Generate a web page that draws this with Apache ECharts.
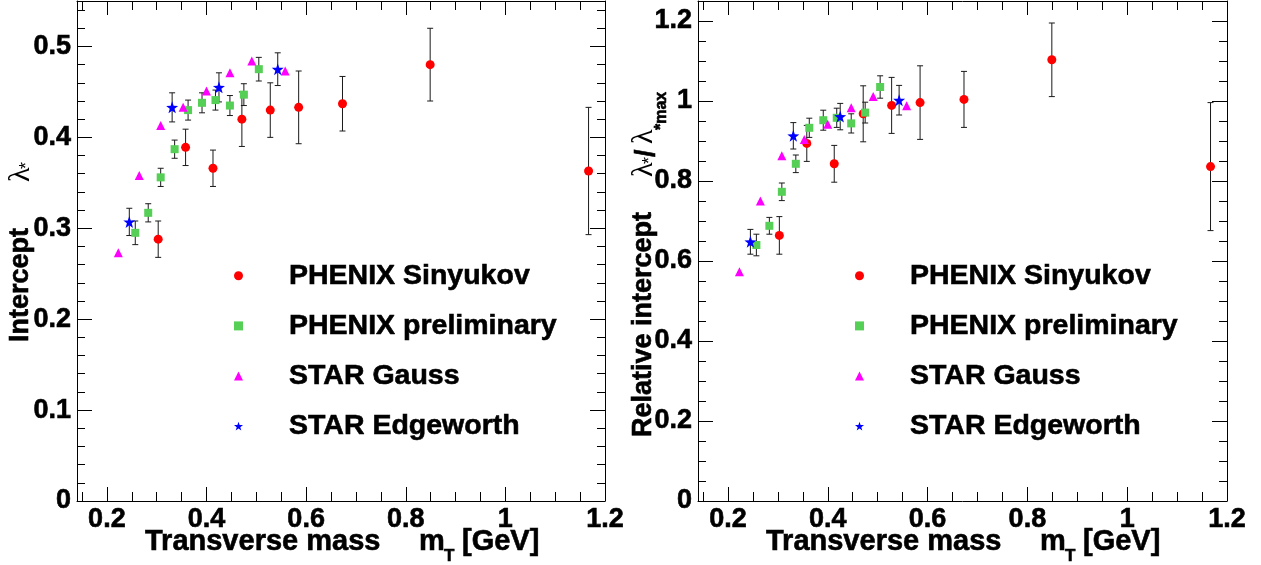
<!DOCTYPE html>
<html>
<head>
<meta charset="utf-8">
<script src="https://cdn.jsdelivr.net/npm/echarts@6/dist/echarts.min.js"></script>
<style>
html,body{margin:0;padding:0;background:#fff;}
#chart{width:1261px;height:565px;}
</style>
</head>
<body>
<div id="chart"></div>
<script>
// ---------- data ----------
const seriesNames = ['PHENIX Sinyukov', 'PHENIX preliminary', 'STAR Gauss', 'STAR Edgeworth'];

// transverse mass m_T [GeV]
const sinyukovX = [0.303, 0.358, 0.413, 0.471, 0.528, 0.585, 0.673, 0.849, 1.167];
const prelimX   = [0.257, 0.283, 0.308, 0.336, 0.363, 0.391, 0.418, 0.447, 0.475, 0.505];
const gaussX    = [0.223, 0.265, 0.308, 0.353, 0.400, 0.447, 0.491, 0.558];
const edgeX     = [0.245, 0.331, 0.425, 0.543];

// left panel: intercept lambda*
const sinyukovY   = [0.288, 0.389, 0.366, 0.420, 0.430, 0.433, 0.437, 0.480, 0.363];
const sinyukovErr = [0.020, 0.020, 0.020, 0.030, 0.030, 0.040, 0.030, 0.040, 0.070];
const prelimY     = [0.295, 0.317, 0.356, 0.387, 0.430, 0.438, 0.441, 0.435, 0.447, 0.475];
const prelimErr   = [0.013, 0.010, 0.010, 0.010, 0.011, 0.011, 0.011, 0.011, 0.012, 0.013];
const gaussY      = [0.273, 0.358, 0.413, 0.433, 0.451, 0.471, 0.484, 0.473];
const edgeY       = [0.307, 0.433, 0.455, 0.475];
const edgeErr     = [0.015, 0.016, 0.016, 0.018];

// right panel: relative intercept lambda*/lambda*max
const sinyukovRelY   = [0.664, 0.894, 0.843, 0.968, 0.989, 0.996, 1.004, 1.103, 0.836];
const sinyukovRelErr = [0.047, 0.045, 0.046, 0.070, 0.070, 0.092, 0.070, 0.092, 0.160];
const prelimRelY     = [0.640, 0.688, 0.773, 0.843, 0.933, 0.952, 0.958, 0.944, 0.971, 1.035];
const prelimRelErr   = [0.027, 0.021, 0.022, 0.022, 0.024, 0.025, 0.024, 0.024, 0.026, 0.028];
const gaussRelY      = [0.573, 0.750, 0.863, 0.904, 0.942, 0.983, 1.011, 0.988];
const edgeRelY       = [0.648, 0.913, 0.961, 1.002];
const edgeRelErr     = [0.031, 0.033, 0.033, 0.037];

// axis ticks
const xTicks      = [0.2, 0.4, 0.6, 0.8, 1.0, 1.2];
const xMinorTicks = [0.15, 0.25, 0.3, 0.35, 0.45, 0.5, 0.55, 0.65, 0.7, 0.75, 0.85, 0.9, 0.95, 1.05, 1.1, 1.15];
const yTicksL      = [0, 0.1, 0.2, 0.3, 0.4, 0.5];
const yMinorTicksL = [0.02, 0.04, 0.06, 0.08, 0.12, 0.14, 0.16, 0.18, 0.22, 0.24, 0.26, 0.28,
                      0.32, 0.34, 0.36, 0.38, 0.42, 0.44, 0.46, 0.48, 0.52, 0.54];
const yTicksR      = [0, 0.2, 0.4, 0.6, 0.8, 1.0, 1.2];
const yMinorTicksR = [0.05, 0.1, 0.15, 0.25, 0.3, 0.35, 0.45, 0.5, 0.55, 0.65, 0.7, 0.75,
                      0.85, 0.9, 0.95, 1.05, 1.1, 1.15];

// ---------- styling ----------
const FONT = '"Liberation Sans", Arial, Helvetica, sans-serif';
const SERIF = '"Liberation Serif", "DejaVu Serif", serif';
const colors = ['#ff0000', '#55cf55', '#ff00ff', '#0000ff'];
const STAR = 'path://M0,-10L2.35,-3.24L9.51,-3.09L3.8,1.24L5.88,8.09L0,4L-5.88,8.09L-3.8,1.24L-9.51,-3.09L-2.35,-3.24Z';
const symbols = ['circle', 'rect', 'triangle', STAR];
const symSizes = [9, 8, 9, 12];
const HEAVY = 0.6; // extra stroke to mimic the heavier bold face

const X_MIN = 0.14, X_MAX = 1.2;
const yRange = [[0, 0.55], [0, 1.25]];
const grids = [
  {left: 77, top: 1, width: 528, height: 500},
  {left: 698, top: 1, width: 529, height: 500}
];

const labelStyle = {fontSize: 27, fontWeight: 'bold', fontFamily: FONT, color: '#000',
                    textBorderColor: '#000', textBorderWidth: HEAVY};

function xAxisDef(gi, pos, vals, len, major) {
  return {
    type: 'value', gridIndex: gi, position: pos, min: X_MIN, max: X_MAX,
    axisLine: {show: major, onZero: false, lineStyle: {color: '#000', width: 1}},
    axisTick: {show: true, inside: true, length: len, customValues: vals, lineStyle: {color: '#000', width: 1}},
    axisLabel: (major && pos === 'bottom')
      ? Object.assign({show: true, customValues: vals, margin: 5}, labelStyle)
      : {show: false},
    splitLine: {show: false}, minorTick: {show: false}
  };
}
function yAxisDef(gi, pos, vals, len, major) {
  const r = yRange[gi];
  return {
    type: 'value', gridIndex: gi, position: pos, min: r[0], max: r[1],
    axisLine: {show: major, onZero: false, lineStyle: {color: '#000', width: 1}},
    axisTick: {show: true, inside: true, length: len, customValues: vals, lineStyle: {color: '#000', width: 1}},
    axisLabel: (major && pos === 'left')
      ? Object.assign({show: true, customValues: vals, margin: 6}, labelStyle)
      : {show: false},
    splitLine: {show: false}, minorTick: {show: false}
  };
}

const xAxes = [], yAxes = [];
const yTicksAll = [[yTicksL, yMinorTicksL], [yTicksR, yMinorTicksR]];
for (let g = 0; g < 2; g++) {
  xAxes.push(xAxisDef(g, 'bottom', xTicks, 14, true));
  xAxes.push(xAxisDef(g, 'bottom', xMinorTicks, 9, false));
  xAxes.push(xAxisDef(g, 'top', xTicks, 14, true));
  xAxes.push(xAxisDef(g, 'top', xMinorTicks, 9, false));
  yAxes.push(yAxisDef(g, 'left', yTicksAll[g][0], 15, true));
  yAxes.push(yAxisDef(g, 'left', yTicksAll[g][1], 8, false));
  yAxes.push(yAxisDef(g, 'right', yTicksAll[g][0], 15, true));
  yAxes.push(yAxisDef(g, 'right', yTicksAll[g][1], 8, false));
}

function zip(xs, ys) { return xs.map((x, i) => [x, ys[i]]); }
function zip3(xs, ys, es) { return xs.map((x, i) => [x, ys[i], es[i]]); }

function errRender(params, api) {
  const x = api.value(0), y = api.value(1), e = api.value(2);
  const lo = api.coord([x, y - e]);
  const hi = api.coord([x, y + e]);
  const c = 3;
  const st = {stroke: '#1a1a1a', lineWidth: 1};
  return {
    type: 'group',
    children: [
      {type: 'line', shape: {x1: lo[0], y1: lo[1], x2: hi[0], y2: hi[1]}, style: st},
      {type: 'line', shape: {x1: lo[0] - c, y1: lo[1], x2: lo[0] + c, y2: lo[1]}, style: st},
      {type: 'line', shape: {x1: hi[0] - c, y1: hi[1], x2: hi[0] + c, y2: hi[1]}, style: st}
    ]
  };
}

const panels = [
  {ys: [sinyukovY, prelimY, gaussY, edgeY], errs: [sinyukovErr, prelimErr, null, edgeErr]},
  {ys: [sinyukovRelY, prelimRelY, gaussRelY, edgeRelY], errs: [sinyukovRelErr, prelimRelErr, null, edgeRelErr]}
];
const xsAll = [sinyukovX, prelimX, gaussX, edgeX];

const series = [];
panels.forEach((p, g) => {
  const xi = g * 4, yi = g * 4;
  for (let s = 0; s < 4; s++) {
    if (p.errs[s]) {
      series.push({
        type: 'custom', name: 'err' + g + '_' + s, xAxisIndex: xi, yAxisIndex: yi,
        renderItem: errRender, data: zip3(xsAll[s], p.ys[s], p.errs[s]), z: 1, silent: true
      });
    }
  }
  for (let s = 0; s < 4; s++) {
    series.push({
      type: 'scatter', name: seriesNames[s], xAxisIndex: xi, yAxisIndex: yi,
      symbol: symbols[s], symbolSize: symSizes[s],
      itemStyle: {color: colors[s], opacity: 1},
      data: zip(xsAll[s], p.ys[s]), z: 3
    });
  }
});

function legendDef(left) {
  return {
    data: seriesNames, orient: 'vertical', left: left, top: 261, padding: 0,
    itemWidth: 9, itemHeight: 9, itemGap: 20.5, selectedMode: false,
    textStyle: {fontSize: 28.5, fontWeight: 'bold', fontFamily: FONT, color: '#000', padding: [0, 0, 0, 41],
                textBorderColor: '#000', textBorderWidth: HEAVY}
  };
}

function txt(x, y, text, font, heavy) {
  const st = {text: text, font: font, fill: '#000', align: 'left', verticalAlign: 'middle',
              textAlign: 'left', textVerticalAlign: 'middle'};
  if (heavy) { st.stroke = '#000'; st.lineWidth = HEAVY; }
  return {type: 'text', x: x, y: y, silent: true, style: st};
}
const TFONT = 'bold 27px ' + FONT;
const XFONT = 'bold 29px ' + FONT;
const graphics = [];
[0, 621].forEach(dx => {
  graphics.push(txt(145 + dx, 542, 'Transverse mass', XFONT, true));
  graphics.push(txt(419 + dx, 542, 'm', XFONT, true));
  graphics.push(txt(444 + dx, 556, 'T', 'bold 17px ' + FONT, true));
  graphics.push(txt(462 + dx, 542, '[GeV]', XFONT, true));
});
graphics.push({
  type: 'group', x: 21, y: 342, rotation: Math.PI / 2,
  children: [
    txt(0, 0, 'Intercept', TFONT, true),
    txt(160, 0, 'λ', '30px ' + SERIF, false),
    txt(173, 6, '*', '18px ' + FONT, false)
  ]
});
graphics.push({
  type: 'group', x: 644, y: 437, rotation: Math.PI / 2,
  children: [
    txt(0, 0, 'Relative intercept', TFONT, true),
    txt(260, 0, 'λ', '30px ' + SERIF, false),
    txt(273, 6, '*', '18px ' + FONT, false),
    txt(280, 3, '/', TFONT, true),
    txt(293, 0, 'λ', '30px ' + SERIF, false),
    txt(307, 18, '*max', 'bold 16px ' + FONT, true)
  ]
});

const chart = echarts.init(document.getElementById('chart'), null, {renderer: 'canvas'});
chart.setOption({
  animation: false,
  backgroundColor: '#ffffff',
  textStyle: {fontFamily: FONT},
  grid: grids.map(g => Object.assign({containLabel: false, outerBoundsMode: 'none'}, g)),
  xAxis: xAxes,
  yAxis: yAxes,
  legend: [legendDef(234), legendDef(855)],
  graphic: graphics,
  series: series
});
</script>
</body>
</html>
